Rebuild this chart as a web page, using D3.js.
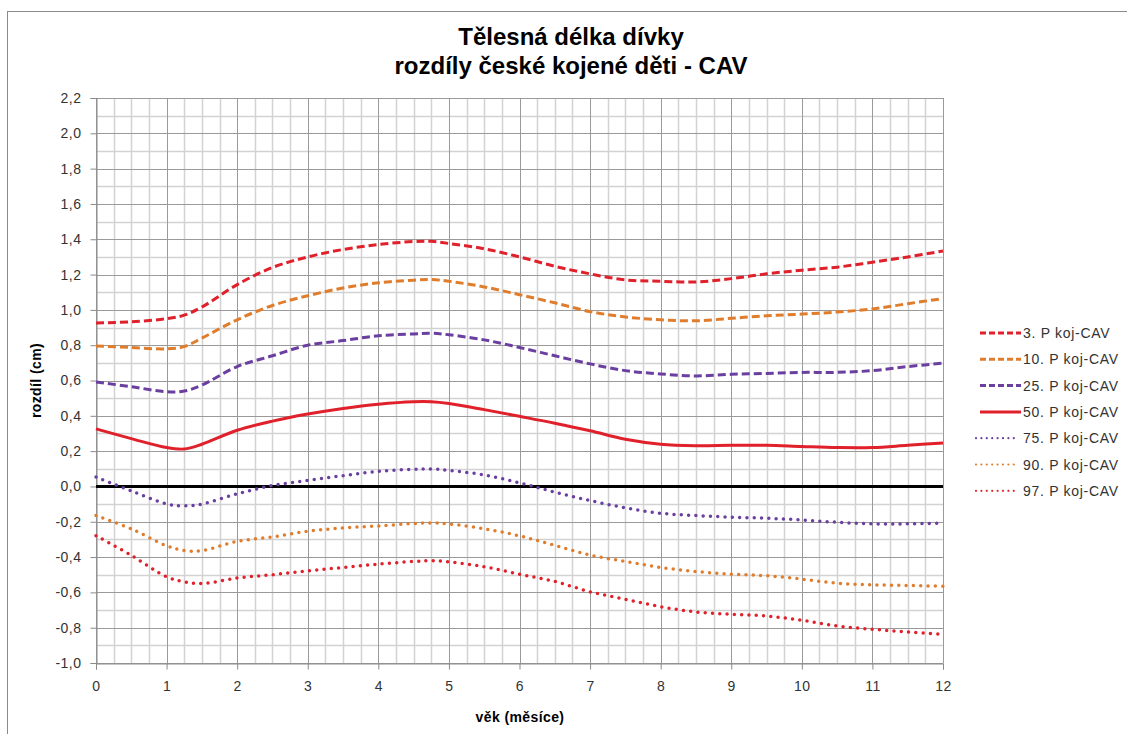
<!DOCTYPE html>
<html>
<head>
<meta charset="utf-8">
<script src="https://cdn.jsdelivr.net/npm/d3@7"></script>
<style>
html,body{margin:0;padding:0;background:#fff;}
svg{display:block;font-family:"Liberation Sans",Arial,sans-serif;}
</style>
</head>
<body>
<svg id="chart" width="1127" height="734"></svg>
<script>
const titleLines = ["Tělesná délka dívky", "rozdíly české kojené děti - CAV"];
const xAxisTitle = "věk (měsíce)";
const yAxisTitle = "rozdíl (cm)";
const xTicks = [0,1,2,3,4,5,6,7,8,9,10,11,12];
const yTicks = [-1.0,-0.8,-0.6,-0.4,-0.2,0.0,0.2,0.4,0.6,0.8,1.0,1.2,1.4,1.6,1.8,2.0,2.2];
const ages = [0,0.5,1,1.25,1.5,2,2.5,3,3.5,4,4.5,4.75,5,5.5,6,6.5,7,7.5,8,8.5,9,9.5,10,10.5,11,11.5,12];
const seriesNames = ["3. P koj-CAV","10. P koj-CAV","25. P koj-CAV","50. P koj-CAV","75. P koj-CAV","90. P koj-CAV","97. P koj-CAV"];
const p3  = [0.925,0.933,0.95,0.97,1.016,1.143,1.24,1.30,1.342,1.37,1.387,1.388,1.376,1.346,1.30,1.247,1.204,1.17,1.162,1.158,1.177,1.204,1.225,1.242,1.27,1.30,1.333];
const p10 = [0.796,0.787,0.779,0.792,0.84,0.944,1.025,1.08,1.124,1.153,1.168,1.172,1.162,1.13,1.086,1.04,0.99,0.96,0.944,0.938,0.952,0.967,0.976,0.988,1.005,1.035,1.064];
const p25 = [0.591,0.565,0.536,0.54,0.574,0.679,0.74,0.80,0.826,0.853,0.864,0.868,0.859,0.83,0.787,0.74,0.694,0.656,0.637,0.626,0.635,0.64,0.646,0.646,0.656,0.679,0.698];
const p50 = [0.326,0.271,0.22,0.212,0.239,0.318,0.37,0.41,0.442,0.466,0.48,0.48,0.47,0.435,0.397,0.358,0.315,0.267,0.239,0.231,0.233,0.233,0.226,0.22,0.22,0.233,0.246];
const p75 = [0.053,-0.025,-0.099,-0.11,-0.1,-0.042,0.005,0.034,0.061,0.085,0.097,0.099,0.091,0.065,0.02,-0.032,-0.08,-0.121,-0.152,-0.165,-0.174,-0.18,-0.19,-0.203,-0.212,-0.212,-0.207];
const p90 = [-0.165,-0.24,-0.336,-0.363,-0.364,-0.311,-0.286,-0.254,-0.235,-0.224,-0.21,-0.207,-0.212,-0.24,-0.28,-0.334,-0.389,-0.425,-0.459,-0.482,-0.497,-0.506,-0.525,-0.548,-0.557,-0.561,-0.565];
const p97 = [-0.279,-0.39,-0.512,-0.54,-0.55,-0.519,-0.5,-0.478,-0.459,-0.44,-0.425,-0.421,-0.427,-0.455,-0.497,-0.538,-0.597,-0.639,-0.681,-0.711,-0.724,-0.734,-0.758,-0.79,-0.809,-0.824,-0.838];
const seriesValues = [p3,p10,p25,p50,p75,p90,p97];

const colors = ["#e0202a","#e07d2c","#6b3fa0","#e0202a","#6b3fa0","#e07d2c","#e0202a"];
const kinds = ["dash","dash","dash","solid","dot","dot","dot"];

const svg = d3.select("#chart");
const L = 96, R = 943, T = 98, B = 663;
const x = d3.scaleLinear().domain([0,12]).range([L,R]);
const y = d3.scaleLinear().domain([-1.0,2.2]).range([B,T]);

// outer frame
svg.append("rect").attr("x",7.5).attr("y",11.5).attr("width",1200).attr("height",800)
  .attr("fill","none").attr("stroke","#8a8a8a").attr("stroke-width",1);

// title
const title = svg.append("text").attr("text-anchor","middle").attr("font-weight","bold")
  .attr("font-size",24).attr("fill","#000");
titleLines.forEach((t,i)=>title.append("tspan").attr("x",571).attr("y",45+i*29).text(t));

// grid
const g = svg.append("g");
const minorX = d3.range(0,12.001,0.25).filter(v=>Math.abs(v-Math.round(v))>1e-6);
const minorY = d3.range(-1.0,2.2001,0.1).filter(v=>Math.abs(v*5-Math.round(v*5))>1e-6);
g.selectAll(".mx").data(minorX).enter().append("line")
  .attr("x1",d=>Math.round(x(d))+0.5).attr("x2",d=>Math.round(x(d))+0.5).attr("y1",T).attr("y2",B)
  .attr("stroke","#d2d2d2").attr("stroke-width",1.5);
g.selectAll(".my").data(minorY).enter().append("line")
  .attr("y1",d=>Math.round(y(d))+0.5).attr("y2",d=>Math.round(y(d))+0.5).attr("x1",L).attr("x2",R)
  .attr("stroke","#d2d2d2").attr("stroke-width",1.5);
g.selectAll(".Mx").data(xTicks).enter().append("line")
  .attr("x1",d=>Math.round(x(d))+0.5).attr("x2",d=>Math.round(x(d))+0.5).attr("y1",T).attr("y2",B)
  .attr("stroke","#9a9a9a").attr("stroke-width",1);
g.selectAll(".My").data(yTicks).enter().append("line")
  .attr("y1",d=>Math.round(y(d))+0.5).attr("y2",d=>Math.round(y(d))+0.5).attr("x1",L).attr("x2",R)
  .attr("stroke","#9a9a9a").attr("stroke-width",1);

// axes
const fmt = d=>d3.format(".1f")(d).replace(".",",").replace("−","-");
const yAxis = svg.append("g").attr("transform",`translate(${L+0.5},0)`)
  .call(d3.axisLeft(y).tickValues(yTicks).tickFormat(fmt).tickSize(6).tickPadding(9));
const xAxis = svg.append("g").attr("transform",`translate(0,${B+0.5})`)
  .call(d3.axisBottom(x).tickValues(xTicks).tickFormat(d=>d).tickSize(6).tickPadding(12));
[yAxis,xAxis].forEach(a=>{
  a.selectAll("path").attr("stroke","#8a8a8a");
  a.selectAll("line").attr("stroke","#8a8a8a");
  a.selectAll("text").attr("font-family","Liberation Sans, Arial, sans-serif")
    .attr("font-size",14).attr("letter-spacing",0.5).attr("fill","#333");
});

// zero line
svg.append("line").attr("x1",L).attr("x2",R).attr("y1",y(0)).attr("y2",y(0))
  .attr("stroke","#000").attr("stroke-width",3);

// series
const line = d3.line().x(d=>x(d[0])).y(d=>y(d[1])).curve(d3.curveCatmullRom.alpha(0.5));
function styleLine(sel,kind){
  if(kind==="dash") sel.attr("stroke-width",3).attr("stroke-dasharray","8,4");
  else if(kind==="dot") sel.attr("stroke-width",3.5).attr("stroke-dasharray","0,7.3").attr("stroke-linecap","round");
  else sel.attr("stroke-width",3);
}
seriesValues.forEach((vals,i)=>{
  const pts = ages.map((a,j)=>[a,vals[j]]);
  const p = svg.append("path").datum(pts).attr("d",line).attr("fill","none").attr("stroke",colors[i]);
  styleLine(p,kinds[i]);
});

// axis titles
svg.append("text").attr("x",520).attr("y",722).attr("text-anchor","middle")
  .attr("font-weight","bold").attr("font-size",14).attr("letter-spacing",0.4).attr("fill","#000").text(xAxisTitle);
svg.append("text").attr("transform",`translate(41,${(T+B)/2}) rotate(-90)`).attr("text-anchor","middle")
  .attr("font-weight","bold").attr("font-size",14).attr("letter-spacing",0.4).attr("fill","#000").text(yAxisTitle);

// legend
const leg = svg.append("g");
seriesNames.forEach((n,i)=>{
  const yy = 333 + i*26.3;
  const ln = leg.append("line").attr("x1",kinds[i]==="dot"?976:980).attr("x2",kinds[i]==="dot"?1014:1021)
    .attr("y1",yy).attr("y2",yy).attr("stroke",colors[i]);
  if(kinds[i]==="dash") ln.attr("stroke-width",3).attr("stroke-dasharray","6,3");
  else if(kinds[i]==="dot") ln.attr("stroke-width",2.2).attr("stroke-dasharray","0,5.4").attr("stroke-linecap","round");
  else ln.attr("stroke-width",3);
  leg.append("text").attr("x",1023).attr("y",yy+5).attr("font-size",14).attr("letter-spacing",0.7).attr("fill","#333").text(n);
});
</script>
</body>
</html>
